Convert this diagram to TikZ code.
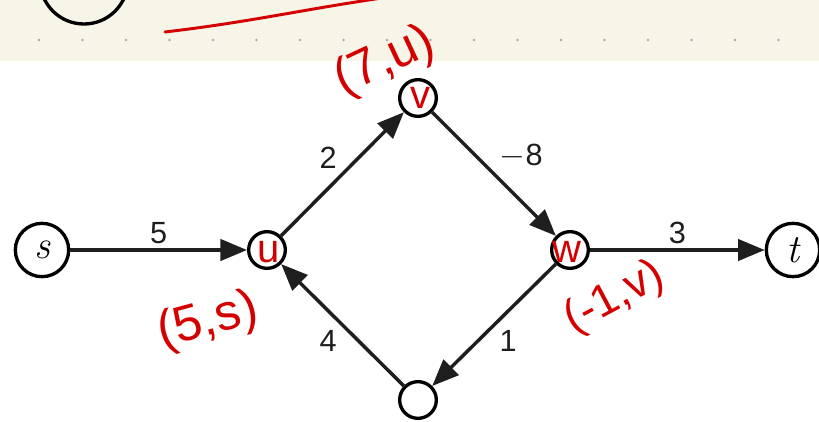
\documentclass[tikz,border=0pt]{standalone}
\usepackage{fontspec}
\setmainfont{Liberation Sans}
\newfontfamily\lmroman{Latin Modern Roman}
\usetikzlibrary{arrows.meta,positioning,calc}
\definecolor{notebg}{HTML}{F7F4E8}
\definecolor{notedot}{HTML}{A8A8A8}
\definecolor{inkred}{HTML}{D40000}
\definecolor{edgegray}{HTML}{1E1E1E}
\tikzstyle{arrow} = [-{Triangle[length=20pt,width=16pt]}, line width=2.6pt, edgegray]

\begin{document}
\begin{tikzpicture}[x=0.75pt,y=-0.75pt,
  vertex/.style={circle, draw=black, line width=2.5pt, minimum size=27.5pt, inner sep=0pt},
  endvertex/.style={vertex, minimum size=40pt, font=\lmroman\itshape\fontsize{30}{32}\selectfont},
  weight/.style={font=\fontsize{23}{26}\selectfont, text=edgegray, inner sep=3pt},
  ink/.style={text=inkred, inner sep=0pt, font=\fontsize{30}{32}\selectfont}]
\useasboundingbox (0,0) rectangle (819,422);

% note paper strip at the top
\fill[notebg] (0,0) rectangle (819,61);
\foreach \i in {0,...,17}
  \fill[notedot] (39+43.5*\i,40) circle (1.1pt);
\draw[line width=2.5pt] (84,-20) circle[radius=44];
\draw[inkred, line width=2.2pt, line cap=round] (165,32) .. controls (250,22) and (300,10) .. (382,-2);

% vertices
\node[endvertex] (s) at (42,250) {s};
\node[vertex] (u) at (267,250) {};
\node[vertex] (v) at (418,98) {};
\node[vertex] (w) at (570,250) {};
\node[vertex] (x) at (418,400) {};
\node[endvertex] (t) at (793,250) {t};

% weighted edges
\draw[arrow] (s) -- node[weight, above] {5} (u);
\draw[arrow] (u) -- node[weight, above left] {2} (v);
\draw[arrow] (v) -- node[weight, above right] {$-$8} (w);
\draw[arrow] (w) -- node[weight, above] {3} (t);
\draw[arrow] (w) -- node[weight, below right] {1} (x);
\draw[arrow] (x) -- node[weight, below left] {4} (u);

% red handwriting
\node[ink] (uname) at (269,252) {u};
\node[ink] (vname) at (420,98) {v};
\node[ink] (wname) at (567,252) {w};
\node[ink, rotate=25, font=\fontsize{38}{40}\selectfont] (vlabel) at (385,62) {(7,u)};
\node[ink, rotate=15, font=\fontsize{38}{40}\selectfont] (ulabel) at (208,322) {(5,s)};
\node[ink, rotate=28, font=\fontsize{34}{36}\selectfont] (wlabel) at (615,298) {(-1,v)};
\end{tikzpicture}
\end{document}
